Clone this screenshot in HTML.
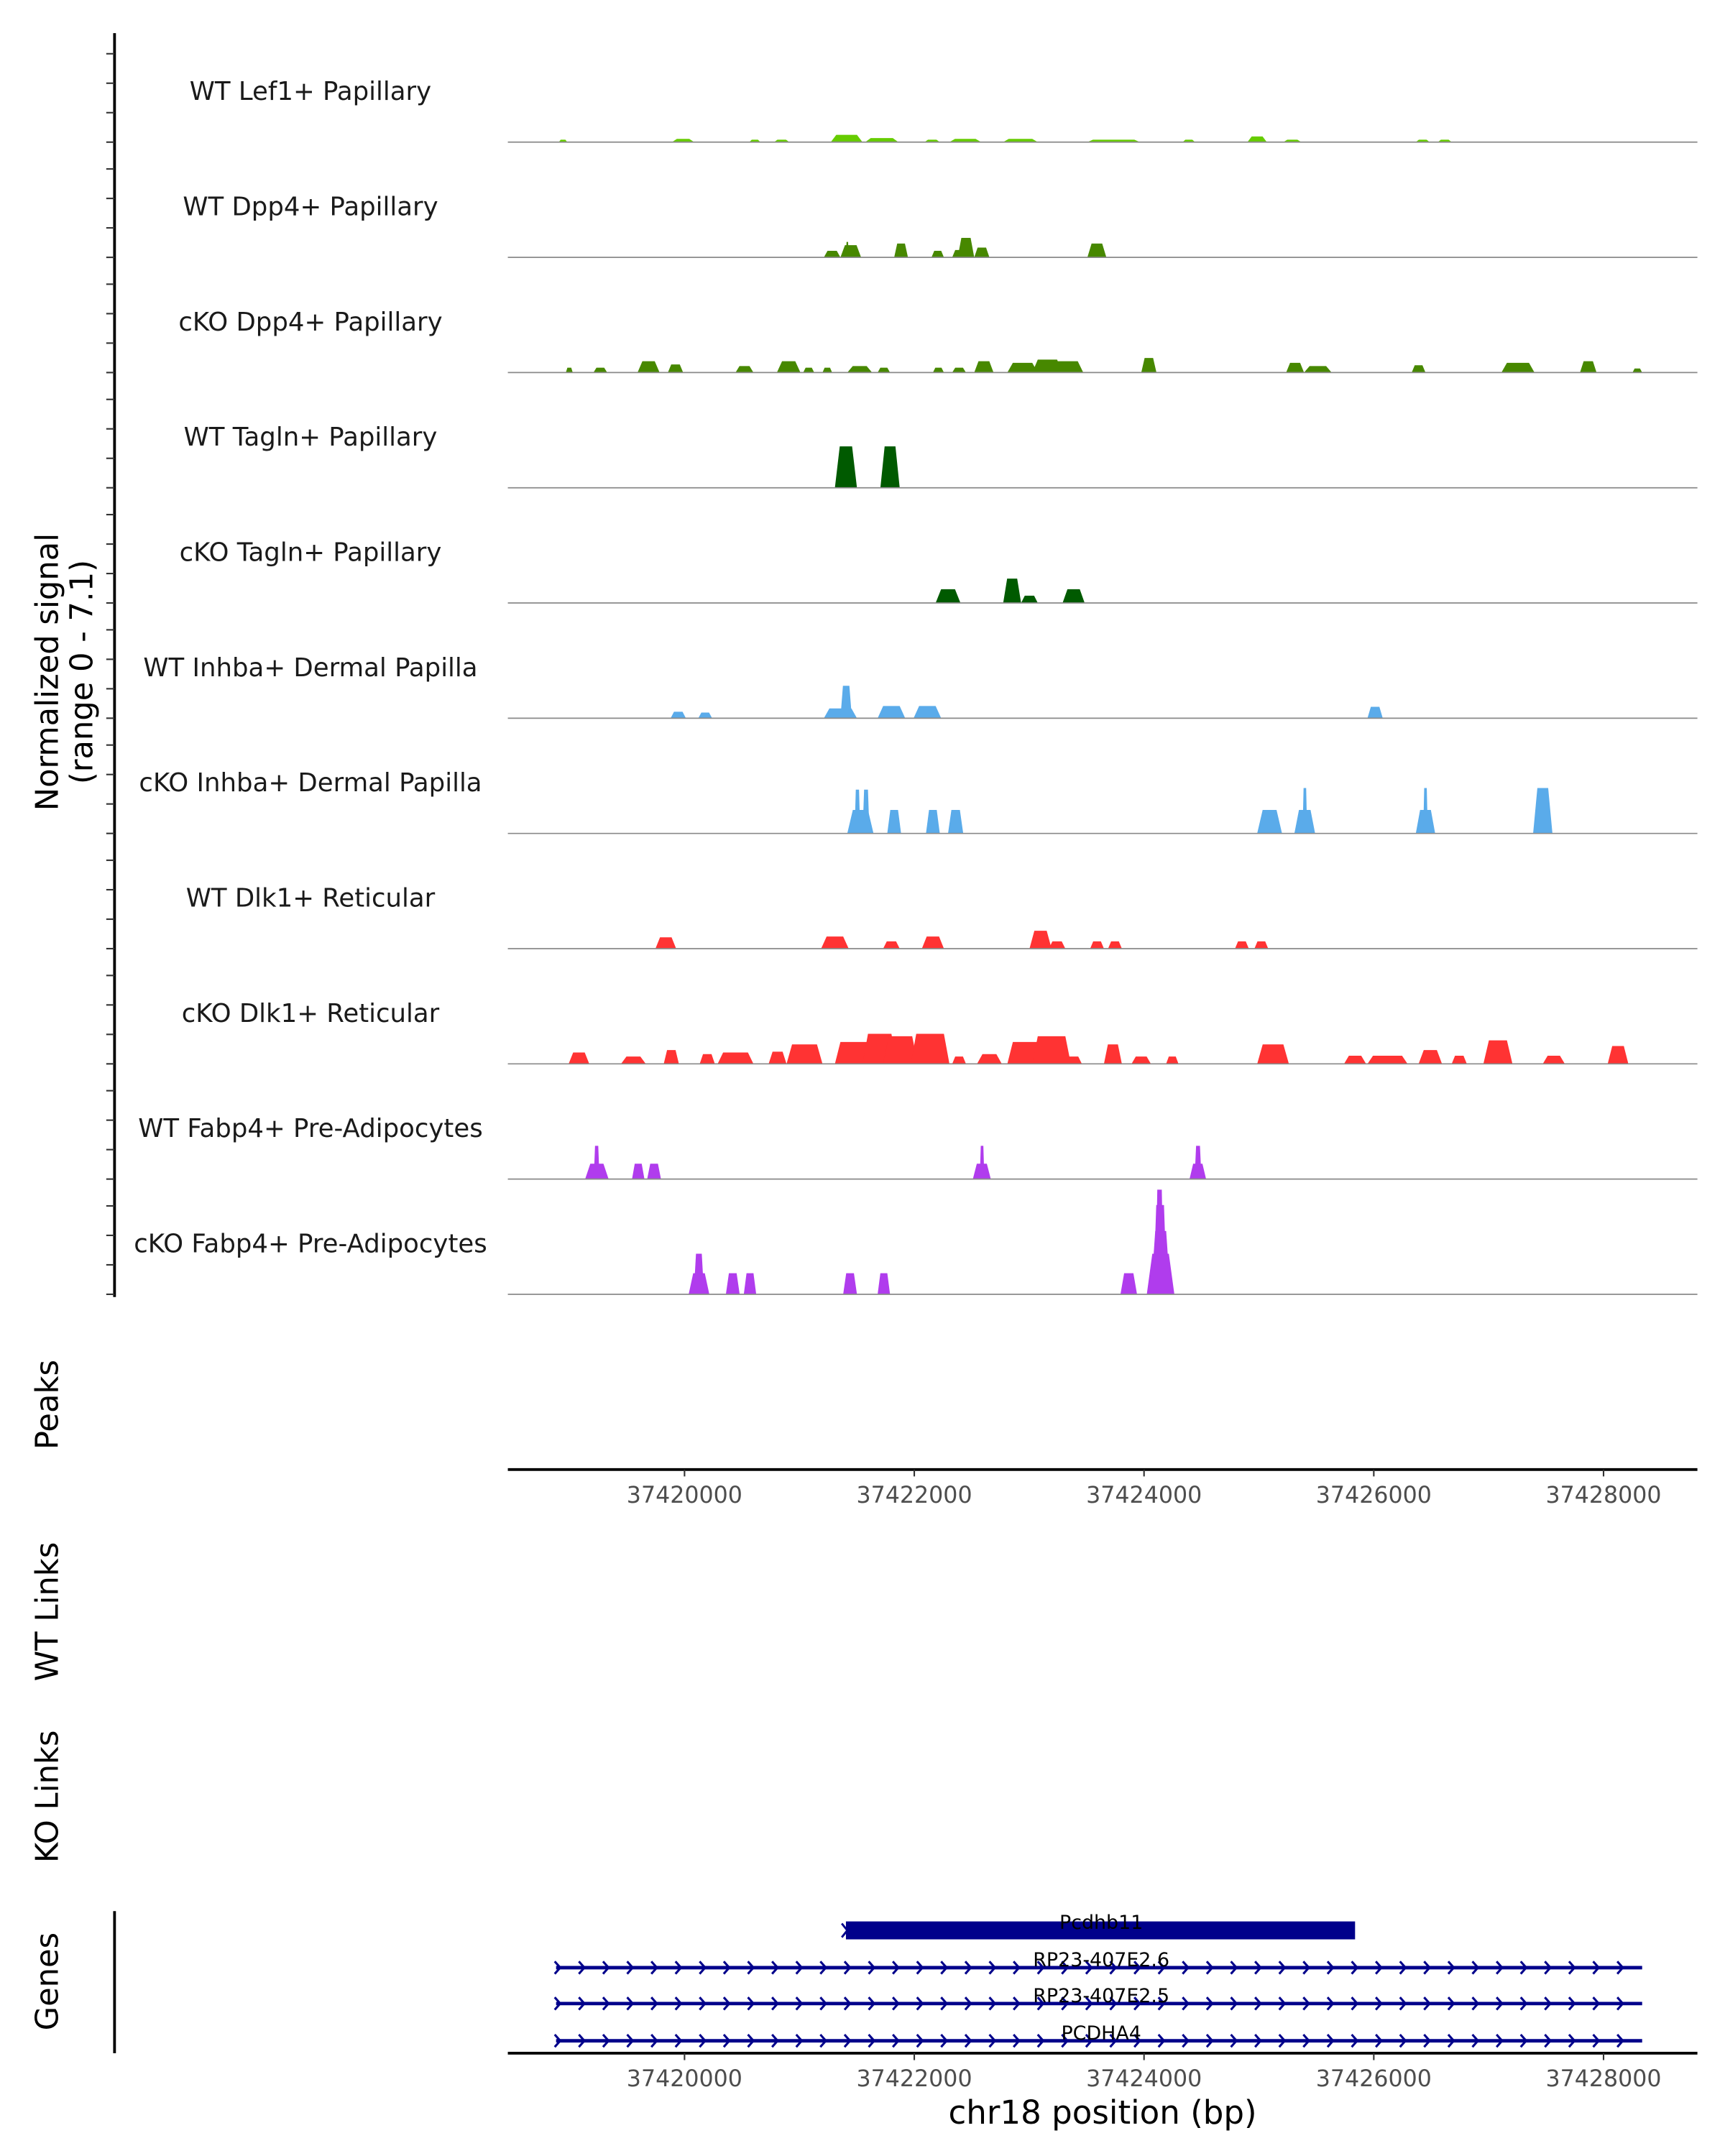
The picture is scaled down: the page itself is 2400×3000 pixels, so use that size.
<!DOCTYPE html>
<html><head><meta charset="utf-8"><style>
html,body{margin:0;padding:0;background:#fff}
svg{display:block}
text{font-family:"DejaVu Sans","Liberation Sans",sans-serif}
</style></head><body>
<svg id="chart" xmlns="http://www.w3.org/2000/svg" width="2400" height="3000" viewBox="0 0 1250 1562.5">
<rect x="0" y="0" width="1250" height="1562.5" fill="#fff"/>
<g id="axes"></g>
<g id="tracks"></g>
<g id="genes"></g>
<text transform="translate(42,487) rotate(-90)" text-anchor="middle" font-size="22.5">Normalized signal</text>
<text transform="translate(67,487) rotate(-90)" text-anchor="middle" font-size="22.5">(range 0 - 7.1)</text>
<text transform="translate(42,1018) rotate(-90)" text-anchor="middle" font-size="22.5">Peaks</text>
<text transform="translate(42,1168) rotate(-90)" text-anchor="middle" font-size="22.5">WT Links</text>
<text transform="translate(42,1302) rotate(-90)" text-anchor="middle" font-size="22.5">KO Links</text>
<text transform="translate(42,1436) rotate(-90)" text-anchor="middle" font-size="22.5">Genes</text>
<text x="799" y="1539" text-anchor="middle" font-size="23.5">chr18 position (bp)</text>
</svg>
<script>
const NS="http://www.w3.org/2000/svg";
const trackNames=["WT Lef1+ Papillary","WT Dpp4+ Papillary","cKO Dpp4+ Papillary","WT Tagln+ Papillary","cKO Tagln+ Papillary","WT Inhba+ Dermal Papilla","cKO Inhba+ Dermal Papilla","WT Dlk1+ Reticular","cKO Dlk1+ Reticular","WT Fabp4+ Pre-Adipocytes","cKO Fabp4+ Pre-Adipocytes"];
const trackColors=["#66cc00","#478800","#478800","#005a00","#005a00","#5aabea","#5aabea","#ff3333","#ff3333","#b03ced","#b03ced"];
const xTicks=[37420000,37422000,37424000,37426000,37428000];
const yMax=7.1;
// peaks: [start bp, end bp, signal]
const pkLef1=[[37418906,37418979,0.15],[37419891,37420084,0.2],[37420564,37420660,0.15],[37420780,37420912,0.15],[37421273,37421549,0.45],[37421573,37421861,0.25],[37422090,37422222,0.15],[37422306,37422582,0.2],[37422774,37423075,0.2],[37423507,37423964,0.15],[37424336,37424444,0.15],[37424900,37425069,0.35],[37425213,37425369,0.15],[37426366,37426486,0.15],[37426558,37426678,0.15]];
const pkDpp4WT=[[37421213,37421357,0.4],[37421357,37421537,0.75],[37421405,37421429,0.95],[37421825,37421945,0.85],[37422150,37422258,0.4],[37422330,37422450,0.45],[37422378,37422522,1.2],[37422522,37422654,0.6],[37423507,37423672,0.85]];
const pkDpp4KO=[[37418967,37419027,0.3],[37419207,37419327,0.3],[37419591,37419783,0.7],[37419855,37419988,0.5],[37420444,37420600,0.4],[37420804,37421009,0.7],[37421033,37421129,0.3],[37421201,37421285,0.3],[37421417,37421633,0.4],[37421681,37421789,0.3],[37422162,37422258,0.3],[37422330,37422450,0.3],[37422522,37422690,0.7],[37422810,37423075,0.6],[37423027,37423291,0.8],[37423171,37423471,0.7],[37423976,37424108,0.9],[37425237,37425393,0.6],[37425393,37425633,0.4],[37426330,37426450,0.45],[37427111,37427399,0.6],[37427795,37427939,0.7],[37428252,37428336,0.25]];
const pkTaglnWT=[[37421309,37421501,2.55],[37421705,37421873,2.55],[37421789,37421873,0.7]];
const pkTaglnKO=[[37422186,37422402,0.85],[37422774,37422930,1.5],[37422930,37423075,0.45],[37423291,37423483,0.85]];
const pkInhbaWT=[[37419879,37420012,0.4],[37420120,37420240,0.35],[37421213,37421501,0.6],[37421357,37421457,2.0],[37421681,37421921,0.75],[37421994,37422234,0.75],[37425945,37426078,0.7]];
const pkInhbaKO=[[37421417,37421645,1.45],[37421480,37421530,2.7],[37421550,37421610,2.7],[37421765,37421885,1.45],[37422102,37422222,1.45],[37422294,37422426,1.45],[37424985,37425201,1.45],[37425309,37425489,1.45],[37425380,37425420,2.8],[37426366,37426534,1.45],[37426430,37426470,2.8],[37427387,37427555,2.8]];
const pkDlk1WT=[[37419747,37419927,0.7],[37421189,37421429,0.75],[37421729,37421873,0.45],[37422066,37422258,0.75],[37423003,37423195,1.1],[37423171,37423315,0.45],[37423531,37423651,0.45],[37423687,37423807,0.45],[37424792,37424912,0.45],[37424961,37425081,0.45]];
const pkDlk1KO=[[37418991,37419171,0.7],[37419447,37419663,0.45],[37419819,37419951,0.85],[37420132,37420264,0.6],[37420288,37420600,0.7],[37420732,37420888,0.75],[37420888,37421201,1.2],[37421309,37421729,1.35],[37421549,37421849,1.85],[37421729,37422030,1.7],[37421969,37422306,1.85],[37422330,37422450,0.45],[37422546,37422762,0.6],[37422810,37423291,1.35],[37423027,37423363,1.7],[37423315,37423459,0.45],[37423651,37423807,1.2],[37423891,37424060,0.45],[37424192,37424300,0.45],[37424985,37425261,1.2],[37425741,37425933,0.5],[37425945,37426294,0.5],[37426390,37426594,0.85],[37426678,37426810,0.5],[37426954,37427207,1.45],[37427471,37427663,0.5],[37428036,37428216,1.1]];
const pkFabp4WT=[[37419135,37419339,0.95],[37419210,37419260,2.05],[37419543,37419651,0.95],[37419675,37419795,0.95],[37422510,37422666,0.95],[37422570,37422610,2.05],[37424396,37424540,0.95],[37424440,37424500,2.05]];
const pkFabp4KO=[[37420036,37420216,1.3],[37420080,37420170,2.5],[37420360,37420480,1.3],[37420516,37420624,1.3],[37421381,37421501,1.3],[37421681,37421789,1.3],[37423795,37423939,1.3],[37424024,37424264,2.5],[37424060,37424230,3.9],[37424080,37424200,5.5],[37424100,37424170,6.45]];
const trackPeaks=[pkLef1,pkDpp4WT,pkDpp4KO,pkTaglnWT,pkTaglnKO,pkInhbaWT,pkInhbaKO,pkDlk1WT,pkDlk1KO,pkFabp4WT,pkFabp4KO];
const genes=[["Pcdhb11",37421405,37425837],["RP23-407E2.6",37418882,37428336],["RP23-407E2.5",37418882,37428336],["PCDHA4",37418882,37428336]];

const X0=368,X1=1230,D0=37418462,D1=37428817;
const xs=v=>X0+(v-D0)/(D1-D0)*(X1-X0);
const top0=19.5,PH=83.5;
const base=i=>top0+PH*(i+1);
const ys=(i,v)=>base(i)-v/yMax*PH;
function mk(tag,attrs,parent){const e=document.createElementNS(NS,tag);for(const k in attrs)e.setAttribute(k,attrs[k]);parent.appendChild(e);return e;}
const axes=document.getElementById('axes'),tracks=document.getElementById('tracks'),gg=document.getElementById('genes');
const ya=mk('line',{x1:83,y1:24,x2:83,y2:940,stroke:'#000','stroke-width':2},axes);


for(let i=0;i<trackNames.length;i++){
  for(let k=0;k<4;k++){
    const y=base(i)-k*21.35;
    const t=mk('line',{x1:77,y1:y,x2:83,y2:y,stroke:'#333','stroke-width':1.1},axes);
    
    
  }
  const g=mk('g',{},tracks);
  
  
  const lab=mk('text',{x:225,y:base(i)-30.5,'text-anchor':'middle','font-size':18.5,fill:'#1a1a1a'},g);
  lab.textContent=trackNames[i];
  
  
  for(const p of trackPeaks[i]){
    const a=xs(p[0]),b=xs(p[1]),w=b-a,r=Math.min(w*0.22,4),yb=base(i),yt=ys(i,p[2]);
    const poly=mk('polygon',{points:`${a},${yb} ${a+r},${yt} ${b-r},${yt} ${b},${yb}`,fill:trackColors[i]},g);
    
    
  }
  const bl=mk('line',{x1:X0,y1:base(i),x2:X1,y2:base(i),stroke:'#8a8a8a','stroke-width':0.9},g);
  
  
}
function xAxis(y,name){
  const l=mk('line',{x1:X0,y1:y,x2:X1,y2:y,stroke:'#000','stroke-width':2},axes);
  
  
  for(const v of xTicks){
    const t=mk('line',{x1:xs(v),y1:y,x2:xs(v),y2:y+5,stroke:'#333','stroke-width':1.1},axes);
    
    
    const tx=mk('text',{x:xs(v),y:y+24,'text-anchor':'middle','font-size':16.5,fill:'#4d4d4d'},axes);
    tx.textContent=v;
    
    
  }
}
xAxis(1065,'peaks-x-axis');
xAxis(1488,'genes-x-axis');
const ga=mk('line',{x1:83,y1:1385,x2:83,y2:1488,stroke:'#000','stroke-width':2},axes);


const geneY=[1399,1426,1452,1479];
genes.forEach((gd,i)=>{
  const g=mk('g',{},gg);
  
  
  const a=xs(gd[1]),b=xs(gd[2]),y=geneY[i];
  if(i===0){
    const r=mk('rect',{x:a,y:y-6.5,width:b-a,height:13,fill:'#00008b'},g);
    
    
    const ch=mk('path',{d:`M${a-3},${y-5} L${a+1},${y} L${a-3},${y+5}`,stroke:'#00008b','stroke-width':1.5,fill:'none'},g);
    
    
  }else{
    const l=mk('line',{x1:a,y1:y,x2:b,y2:y,stroke:'#00008b','stroke-width':2.5},g);
    
    
    for(let x=a+2;x<=b+1;x+=17.5){
      const ch=mk('path',{d:`M${x-3},${y-4.5} L${x+1},${y} L${x-3},${y+4.5}`,stroke:'#00008b','stroke-width':1.6,fill:'none'},g);
      
      
    }
  }
  const t=mk('text',{x:798,y:y-1,'text-anchor':'middle','font-size':14,fill:'#000'},g);
  t.textContent=gd[0];
  
  
});
</script>
</body></html>
